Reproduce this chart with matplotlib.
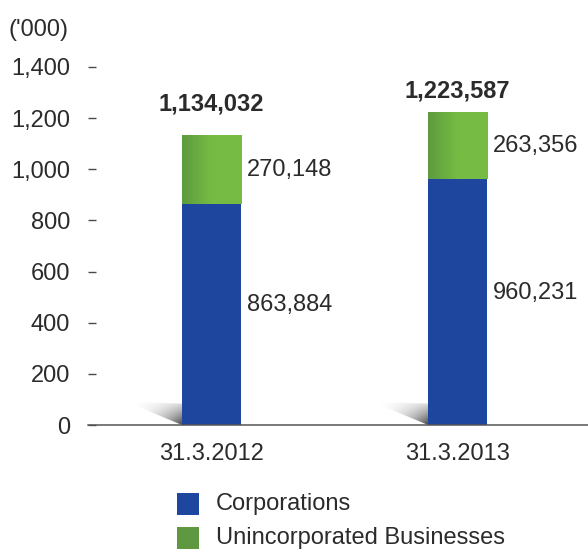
import numpy as np
import matplotlib
matplotlib.use("Agg")
import matplotlib.pyplot as plt
from matplotlib.patches import Rectangle, Polygon
from matplotlib.colors import LinearSegmentedColormap

plt.rcParams['font.family'] = ['Liberation Sans', 'DejaVu Sans']

# Data ('000)
dates = ["31.3.2012", "31.3.2013"]
corporations = [863884, 960231]
unincorporated = [270148, 263356]
totals = [1134032, 1223587]
series_names = ["Corporations", "Unincorporated Businesses"]
yticks = [0, 200, 400, 600, 800, 1000, 1200, 1400]

BLUE = "#1F469E"
GREEN_L = "#5E9B3E"
GREEN_R = "#76BC44"
LEGEND_GREEN = "#5E9840"
TEXT = "#2b2b2b"
FS = 17

W, H = 588, 549
fig = plt.figure(figsize=(W / 100, H / 100), dpi=100)
ax = fig.add_axes([88 / W, 1 - 425 / H, 500 / W, (425 - 54.2) / H])

x = np.arange(len(dates))
width = 0.24
corp_k = np.array(corporations) / 1000
unin_k = np.array(unincorporated) / 1000
tot_k = np.array(totals) / 1000

ax.set_xlim(-0.502, 1.530)
ax.set_ylim(0, 1450)

# floor shadows left of each bar (fade towards the bar's foot)
gx = np.linspace(0, 1, 200)
gy = np.linspace(0, 1, 100)[:, None]
shade = np.clip((gx ** 1.8) * (0.15 + 0.85 * (1 - gy) ** 1.2), 0, 1)
rgba = np.zeros((100, 200, 4))
rgba[..., :3] = 0.22
rgba[..., 3] = shade * 0.95
for xi in x:
    left = xi - width / 2
    sw, sh = 0.224, 90
    poly = Polygon([(left - sw, sh), (left, sh - 6), (left, 0)], closed=True,
                   facecolor="none", edgecolor="none")
    ax.add_patch(poly)
    im = ax.imshow(rgba, extent=[left - sw, left, 0, sh], origin="lower",
                   aspect="auto", zorder=1, interpolation="bilinear")
    im.set_clip_path(poly)

blue_bars = ax.bar(x, corp_k, width, color=BLUE, zorder=2)
green_bars = ax.bar(x, unin_k, width, bottom=corp_k, color=GREEN_R, zorder=2)

# horizontal gradient on the green segments
green_cmap = LinearSegmentedColormap.from_list("g", [GREEN_L, GREEN_R, GREEN_R])
for b in green_bars:
    bx, by, bw, bh = b.get_x(), b.get_y(), b.get_width(), b.get_height()
    grad = np.linspace(0, 1, 256).reshape(1, -1)
    im = ax.imshow(grad, cmap=green_cmap, extent=[bx, bx + bw, by, by + bh],
                   aspect="auto", zorder=3, interpolation="bilinear")
    im.set_clip_path(b)

ax.set_xlim(-0.502, 1.530)
ax.set_ylim(0, 1450)

# value labels
for i in range(len(x)):
    right = x[i] + width / 2
    ax.annotate(f"{unincorporated[i]:,}", (right, corp_k[i] + unin_k[i] / 2),
                xytext=(4.5, 0), textcoords="offset points",
                ha="left", va="center", fontsize=FS, color=TEXT)
    ax.annotate(f"{corporations[i]:,}", (right, corp_k[i] / 2),
                xytext=(4.5, 7), textcoords="offset points",
                ha="left", va="center", fontsize=FS, color=TEXT)

total_offsets = [22, 15]
for i in range(len(x)):
    ax.annotate(f"{totals[i]:,}", (x[i], tot_k[i]),
                xytext=(0, total_offsets[i]), textcoords="offset points",
                ha="center", va="center", fontsize=FS, fontweight="bold", color=TEXT)

# axes styling
for s in ("left", "top", "right"):
    ax.spines[s].set_visible(False)
ax.spines["bottom"].set_color("#555555")
ax.spines["bottom"].set_linewidth(1.1)
ax.set_yticks(yticks)
ax.set_yticklabels([f"{v:,}" for v in yticks], fontsize=FS, color=TEXT)
ax.tick_params(axis="y", direction="in", length=5.5, width=1.0, color="#4a4a4a", pad=13)
ax.set_xticks(x)
ax.set_xticklabels(dates, fontsize=FS, color=TEXT)
ax.tick_params(axis="x", length=0, pad=13)

fig.text(9 / W, 1 - 30 / H, "('000)", fontsize=FS, color=TEXT, ha="left", va="center")

# legend
for j, (name, col) in enumerate(zip(series_names, [BLUE, LEGEND_GREEN])):
    yc = 504 + j * 34
    fig.add_artist(Rectangle((177 / W, 1 - (yc + 11) / H), 22 / W, 22 / H,
                             transform=fig.transFigure, facecolor=col, edgecolor="none"))
    fig.text(216 / W, 1 - yc / H, name, fontsize=FS, color=TEXT, ha="left", va="center")

fig.savefig("out.png", dpi=100)
